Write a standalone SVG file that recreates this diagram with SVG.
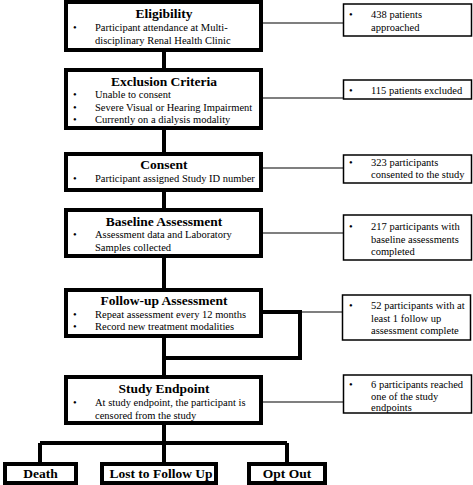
<svg xmlns="http://www.w3.org/2000/svg" width="473" height="485" viewBox="0 0 473 485">
<style>
text{font-family:"Liberation Serif","Times New Roman",serif;fill:#000}
.main{fill:#fff;stroke:#000;stroke-width:4}
.side{fill:#fff;stroke:#000;stroke-width:1.5}
.t{font-size:13.5px;font-weight:bold;text-anchor:middle}
.b{font-size:10.5px}
.thick{fill:none;stroke:#000;stroke-width:4}
.thin{fill:none;stroke:#000;stroke-width:1.2}
</style>
<rect width="473" height="485" fill="#fff"/>
<g id="connectors">
<path class="thick" d="M164 52V70M164 128V154M164 190V210M164 256V290M164 336V377M164 423V443M40 443H287M40 443V464M164 443V464M287 443V464"/>
<path class="thick" d="M262 312H300V358H164"/>
<path class="thin" d="M263 23H343M263 98H343M263 168H343M263 233H343M300 312H342M263 402H343"/>
</g>
<g id="eligibility">
<rect class="main" x="66" y="2" width="195" height="48"/>
<text class="t" x="164" y="18">Eligibility</text>
<text class="b" x="73" y="31">•</text>
<text class="b" x="95" y="31">Participant attendance at Multi-</text>
<text class="b" x="95" y="43.5">disciplinary Renal Health Clinic</text>
</g>
<g id="exclusion">
<rect class="main" x="66" y="70" width="195" height="58"/>
<text class="t" x="164" y="85.5">Exclusion Criteria</text>
<text class="b" x="73" y="98">•</text>
<text class="b" x="95" y="98">Unable to consent</text>
<text class="b" x="73" y="110.5">•</text>
<text class="b" x="95" y="110.5">Severe Visual or Hearing Impairment</text>
<text class="b" x="73" y="123">•</text>
<text class="b" x="95" y="123">Currently on a dialysis modality</text>
</g>
<g id="consent">
<rect class="main" x="66" y="154" width="195" height="36"/>
<text class="t" x="164" y="169">Consent</text>
<text class="b" x="73" y="182">•</text>
<text class="b" x="95" y="182">Participant assigned Study ID number</text>
</g>
<g id="baseline">
<rect class="main" x="66" y="210" width="195" height="46"/>
<text class="t" x="164" y="225.5">Baseline Assessment</text>
<text class="b" x="73" y="238">•</text>
<text class="b" x="95" y="238">Assessment data and Laboratory</text>
<text class="b" x="95" y="250.5">Samples collected</text>
</g>
<g id="followup">
<rect class="main" x="66" y="290" width="195" height="46"/>
<text class="t" x="164" y="305">Follow-up Assessment</text>
<text class="b" x="73" y="317.5">•</text>
<text class="b" x="95" y="317.5">Repeat assessment every 12 months</text>
<text class="b" x="73" y="330">•</text>
<text class="b" x="95" y="330">Record new treatment modalities</text>
</g>
<g id="endpoint">
<rect class="main" x="66" y="377" width="195" height="46"/>
<text class="t" x="164" y="393">Study Endpoint</text>
<text class="b" x="73" y="406">•</text>
<text class="b" x="95" y="406">At study endpoint, the participant is</text>
<text class="b" x="95" y="418.5">censored from the study</text>
</g>
<g id="death">
<rect class="main" x="5" y="464" width="71" height="19"/>
<text class="t" x="40.5" y="478">Death</text>
</g>
<g id="lost">
<rect class="main" x="102" y="464" width="114" height="19"/>
<text class="t" x="161" y="478">Lost to Follow Up</text>
</g>
<g id="optout">
<rect class="main" x="249" y="464" width="76" height="19"/>
<text class="t" x="287" y="478">Opt Out</text>
</g>
<g id="n-approached">
<rect class="side" x="343.5" y="4" width="128" height="32"/>
<text class="b" x="349" y="18">•</text>
<text class="b" x="371" y="18">438 patients</text>
<text class="b" x="371" y="31">approached</text>
</g>
<g id="n-excluded">
<rect class="side" x="343.5" y="80" width="128" height="19"/>
<text class="b" x="349" y="93.5">•</text>
<text class="b" x="371" y="93.5">115 patients excluded</text>
</g>
<g id="n-consented">
<rect class="side" x="343.5" y="155" width="128" height="28"/>
<text class="b" x="349" y="166">•</text>
<text class="b" x="371" y="166">323 participants</text>
<text class="b" x="371" y="178">consented to the study</text>
</g>
<g id="n-baseline">
<rect class="side" x="343.5" y="215" width="128" height="45"/>
<text class="b" x="349" y="230">•</text>
<text class="b" x="371" y="230">217 participants with</text>
<text class="b" x="371" y="242.5">baseline assessments</text>
<text class="b" x="371" y="255">completed</text>
</g>
<g id="n-followup">
<rect class="side" x="342.5" y="295" width="128" height="45"/>
<text class="b" x="349" y="309">•</text>
<text class="b" x="371" y="309">52 participants with at</text>
<text class="b" x="371" y="321.5">least 1 follow up</text>
<text class="b" x="371" y="334">assessment complete</text>
</g>
<g id="n-endpoint">
<rect class="side" x="343.5" y="375" width="128" height="38"/>
<text class="b" x="349" y="387.5">•</text>
<text class="b" x="371" y="387.5">6 participants reached</text>
<text class="b" x="371" y="399.5">one of the study</text>
<text class="b" x="371" y="411">endpoints</text>
</g>
</svg>
